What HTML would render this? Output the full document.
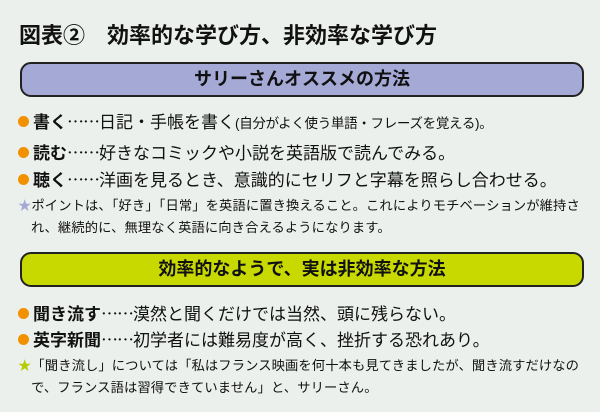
<html><head><style>
body{margin:0;width:600px;height:412px;background:#ecf0ec;font-family:"Liberation Sans","Noto Sans CJK JP",sans-serif;position:relative;overflow:hidden;color:#111}
.a{position:absolute;white-space:nowrap}
.box{position:absolute;left:20px;width:560px;height:31px;border:2px solid #222;border-radius:11px;text-align:center;font-weight:bold;font-size:18px;line-height:31px}
.b{font-size:17px;left:18px}
.b i{font-style:normal;display:inline-block;width:11px;height:11px;border-radius:50%;background:#f29100;margin-right:4px;vertical-align:1px}
.b b{font-weight:bold}
.e{font-family:"Noto Sans CJK JP",sans-serif;letter-spacing:-1px}
.s{font-size:13.3px;left:18px;letter-spacing:0.1px}
</style></head><body>
<div class="a" style="left:19px;top:18px;font-size:22px;font-weight:bold">図表②　効率的な学び方、非効率な学び方</div>
<div class="box" style="top:62px;background:#a4a9d6">サリーさんオススメの方法</div>
<div class="a b" style="top:108px"><i></i><b>書く</b><span class="e">……</span>日記・手帳を書く<span style="font-size:13.5px;letter-spacing:-0.3px">(自分がよく使う単語・フレーズを覚える)。</span></div>
<div class="a b" style="top:139px"><i></i><b>読む</b><span class="e">……</span>好きなコミックや小説を英語版で読んでみる。</div>
<div class="a b" style="top:166px"><i></i><b>聴く</b><span class="e">……</span>洋画を見るとき、意識的にセリフと字幕を照らし合わせる。</div>
<div class="a s" style="top:195px"><span style="color:#a4a9d6">★</span>ポイントは、「好き」「日常」を英語に置き換えること。これによりモチベーションが維持さ</div>
<div class="a s" style="top:217px;left:31px">れ、継続的に、無理なく英語に向き合えるようになります。</div>
<div class="box" style="top:252px;background:#c8d900">効率的なようで、実は非効率な方法</div>
<div class="a b" style="top:300px"><i></i><b>聞き流す</b><span class="e">……</span>漠然と聞くだけでは当然、頭に残らない。</div>
<div class="a b" style="top:326px"><i></i><b>英字新聞</b><span class="e">……</span>初学者には難易度が高く、挫折する恐れあり。</div>
<div class="a s" style="top:355px"><span style="color:#b5cc00">★</span>「聞き流し」については「私はフランス映画を何十本も見てきましたが、聞き流すだけなの</div>
<div class="a s" style="top:377px;left:31px">で、フランス語は習得できていません」と、サリーさん。</div>
</body></html>
